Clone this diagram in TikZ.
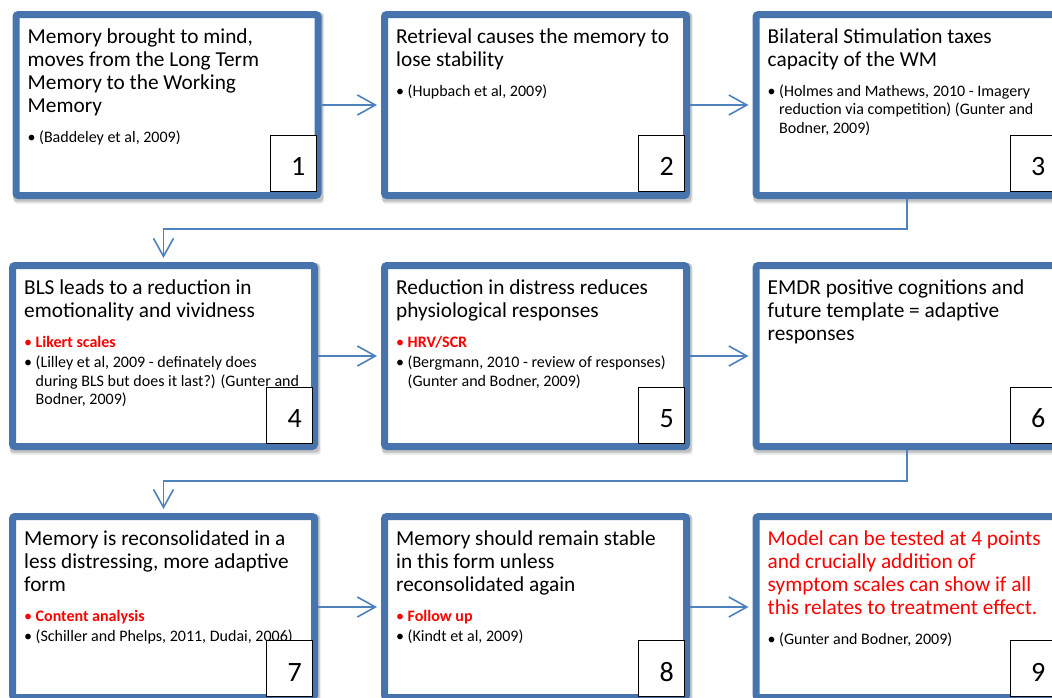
\documentclass[tikz,border=0pt]{standalone}
\usepackage{fontspec}
\setmainfont{Carlito}
\usetikzlibrary{arrows.meta,backgrounds}
\definecolor{bord}{RGB}{71,116,172}
\definecolor{arrc}{RGB}{79,129,189}
\newcommand\ns{\spaceskip=0pt\xspaceskip=0pt\relax}
\newcommand\bitem[2][black]{\par\hangindent=11.5pt\hangafter=1\noindent{\color{#1}\makebox[11.5pt][l]{\textbullet}#2}}
\newcommand\tsize{\fontsize{21.3}{23.1}\selectfont}
\newcommand\bsize{\par\fontsize{16}{18.3}\selectfont\ns\vspace{12pt}}
\newcommand\bgap{\par\vspace{2pt}}
\begin{document}
\begin{tikzpicture}[x=1pt,y=-1pt,
 frame/.style={draw=bord, line width=7pt, fill=white, rounded corners=2.5pt, minimum width=302pt, minimum height=181pt, inner sep=0pt},
 txt/.style={anchor=base west, inner sep=0pt, text width=295pt, align=left, font=\tsize, execute at begin node={\ns}},
 numbox/.style={draw=black, line width=0.9pt, fill=white, minimum width=46pt, minimum height=56pt, inner sep=0pt, anchor=south east},
 digit/.style={font=\fontsize{28}{30}\selectfont, inner sep=0pt, anchor=base east},
 conn/.style={draw=arrc, line width=1.6pt, shorten >=4pt, -{Straight Barb[length=18pt,width=20pt]}},
 shad/.style={fill=black, rounded corners=3pt}]
\useasboundingbox (0,0) rectangle (1052,697);
% frames
\node[frame] (b1) at (167,105) {};
\node[frame] (b2) at (535.5,105) {};
\node[frame] (b3) at (907,105) {};
\node[frame] (b4) at (163.5,356) {};
\node[frame] (b5) at (535.5,356) {};
\node[frame] (b6) at (907,356) {};
\node[frame] (b7) at (163.5,607) {};
\node[frame] (b8) at (535.5,607) {};
\node[frame] (b9) at (907,607) {};
% texts
\node[txt] (t1) at ([xshift=15pt,yshift=-32pt]b1.north west) {Memory brought to mind,\\moves from the Long Term\\Memory to the Working\\Memory
\bsize\bitem{(Baddeley et al, 2009)}\par};
\node[txt] (t2) at ([xshift=15pt,yshift=-32pt]b2.north west) {Retrieval causes the memory to\\lose stability
\bsize\bitem{(Hupbach et al, 2009)}\par};
\node[txt] (t3) at ([xshift=15pt,yshift=-32pt]b3.north west) {Bilateral Stimulation taxes\\capacity of the WM
\bsize\bitem{(Holmes and Mathews, 2010 - Imagery\newline reduction via competition) (Gunter and\newline Bodner, 2009)}\par};
\node[txt] (t4) at ([xshift=15pt,yshift=-32pt]b4.north west) {BLS leads to a reduction in\\emotionality and vividness
\bsize\bitem[red]{\bfseries Likert scales}\bgap\bitem{(Lilley et al, 2009 - definately does\newline during BLS but does it last?) (Gunter and\newline Bodner, 2009)}\par};
\node[txt] (t5) at ([xshift=15pt,yshift=-32pt]b5.north west) {Reduction in distress reduces\\physiological responses
\bsize\bitem[red]{\bfseries HRV/SCR}\bgap\bitem{(Bergmann, 2010 - review of responses)\newline (Gunter and Bodner, 2009)}\par};
\node[txt] (t6) at ([xshift=15pt,yshift=-32pt]b6.north west) {EMDR positive cognitions and\\future template = adaptive\\responses\par};
\node[txt] (t7) at ([xshift=15pt,yshift=-32pt]b7.north west) {Memory is reconsolidated in a\\less distressing, more adaptive\\form
\bsize\bitem[red]{\bfseries Content analysis}\bgap\bitem{(Schiller and Phelps, 2011, Dudai, 2006)}\par};
\node[txt] (t8) at ([xshift=15pt,yshift=-32pt]b8.north west) {Memory should remain stable\\in this form unless\\reconsolidated again
\bsize\bitem[red]{\bfseries Follow up}\bgap\bitem{(Kindt et al, 2009)}\par};
\node[txt] (t9) at ([xshift=15pt,yshift=-32pt]b9.north west) {\color{red}Model can be tested at 4 points\\and crucially addition of\\symptom scales can show if all\\this relates to treatment effect.
\bsize\bitem{(Gunter and Bodner, 2009)}\par};
% number boxes
\foreach \i in {1,2,3}{
  \node[numbox] (n\i) at ([xshift=-5pt,yshift=7.5pt]b\i.south east) {};
  \node[digit] (d\i) at ([xshift=-11pt,yshift=16pt]n\i.south east) {\i};
}
\foreach \i in {4,5,6}{
  \node[numbox] (n\i) at ([xshift=-5pt,yshift=6.5pt]b\i.south east) {};
  \node[digit] (d\i) at ([xshift=-11pt,yshift=16pt]n\i.south east) {\i};
}
\foreach \i in {7,8,9}{
  \node[numbox] (n\i) at ([xshift=-5pt,yshift=4pt]b\i.south east) {};
  \node[digit] (d\i) at ([xshift=-11pt,yshift=16pt]n\i.south east) {\i};
}
% connectors
\draw[conn] (b1.east) -- (b2.west);
\draw[conn] (b2.east) -- (b3.west);
\draw[conn] (b4.east) -- (b5.west);
\draw[conn] (b5.east) -- (b6.west);
\draw[conn] (b7.east) -- (b8.west);
\draw[conn] (b8.east) -- (b9.west);
\draw[conn] (b3.south) -- ++(0,30) -| (b4.north);
\draw[conn] (b6.south) -- ++(0,31) -| (b7.north);
% background and shadows
\begin{scope}[on background layer]
\fill[white] (0,0) rectangle (1052,697);
\foreach \b in {b1,b2,b3,b4,b5,b6,b7,b8,b9}{
  \fill[shad, opacity=0.10] ([xshift=1.5pt,yshift=-2pt]\b.north west) rectangle ([xshift=2.5pt,yshift=-4.5pt]\b.south east);
  \fill[shad, opacity=0.15] ([xshift=0.5pt,yshift=-1pt]\b.north west) rectangle ([xshift=1.5pt,yshift=-2.5pt]\b.south east);
}
\end{scope}
\end{tikzpicture}
\end{document}
